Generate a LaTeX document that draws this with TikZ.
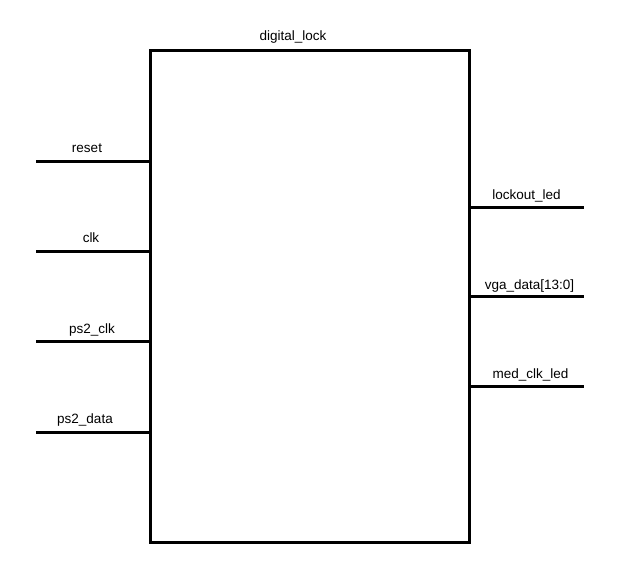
\documentclass[tikz,border=0pt]{standalone}
\usepackage{fontspec}
\setmainfont{Liberation Sans}
\begin{document}
\begin{tikzpicture}[x=1pt,y=-1pt,
  wire/.style={line width=3pt},
  lbl/.style={font=\fontsize{13.5}{16}\selectfont, anchor=base, inner sep=0pt}]
\useasboundingbox (0,0) rectangle (633,575);
\node[draw, line width=3pt, minimum width=319pt, minimum height=491.5pt, inner sep=0pt, outer sep=0pt, anchor=north west] (box) at (150.5,50.5) {};
\node[lbl] (title) at (293,40.7) {digital\_lock};
% inputs
\coordinate (r0) at (36,161.5);
\coordinate (c0) at (36,251.5);
\coordinate (p0) at (36,342);
\coordinate (d0) at (36,432);
\draw[wire] (r0) -- (box.west |- r0);
\draw[wire] (c0) -- (box.west |- c0);
\draw[wire] (p0) -- (box.west |- p0);
\draw[wire] (d0) -- (box.west |- d0);
\node[lbl] (lreset) at (87,152.5) {reset};
\node[lbl] (lclk) at (91,243) {clk};
\node[lbl] (lps2clk) at (92,333.5) {ps2\_clk};
\node[lbl] (lps2data) at (85,423.5) {ps2\_data};
% outputs
\coordinate (o1) at (584,207.5);
\coordinate (o2) at (584,297);
\coordinate (o3) at (584,387);
\draw[wire] (box.east |- o1) -- (o1);
\draw[wire] (box.east |- o2) -- (o2);
\draw[wire] (box.east |- o3) -- (o3);
\node[lbl] (llock) at (526.5,199.3) {lockout\_led};
\node[lbl] (lvga) at (529.5,289.3) {vga\_data[13:0]};
\node[lbl] (lmed) at (530.5,378.3) {med\_clk\_led};
\end{tikzpicture}
\end{document}
